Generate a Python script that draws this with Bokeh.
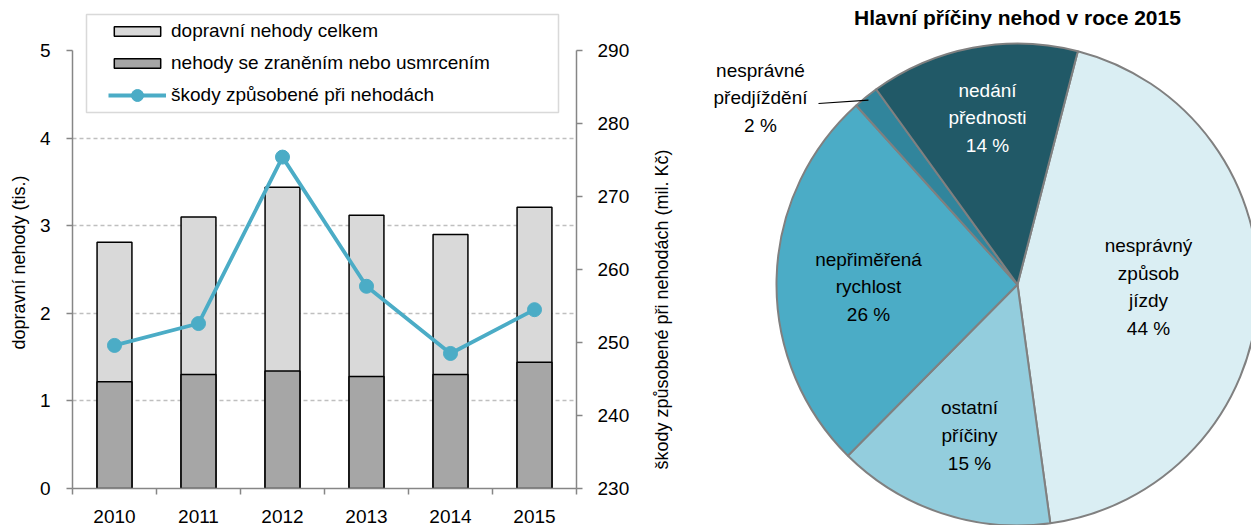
import numpy as np
from bokeh.plotting import figure
from bokeh.layouts import row
from bokeh.models import (ColumnDataSource, Range1d, LinearAxis, FixedTicker, Legend,
                          LegendItem, BoxAnnotation)
from bokeh.embed import file_html
from bokeh.resources import INLINE
from bokeh.core.properties import value

# ---------------- data ----------------
years = ["2010", "2011", "2012", "2013", "2014", "2015"]
accidents_total = [2.81, 3.10, 3.44, 3.12, 2.90, 3.21]      # tis.
accidents_injury = [1.22, 1.30, 1.34, 1.28, 1.30, 1.44]     # tis.
damage = [249.6, 252.6, 275.4, 257.7, 248.5, 254.5]         # mil. Kč
left_ticks = [0, 1, 2, 3, 4, 5]
right_ticks = [230, 240, 250, 260, 270, 280, 290]
left_title = "dopravní nehody (tis.)"
right_title = "škody způsobené při nehodách (mil. Kč)"

cause_names = ["nesprávný\nzpůsob\njízdy", "ostatní\npříčiny", "nepřiměřená\nrychlost",
               "nesprávné\npředjíždění", "nedání\npřednosti"]
cause_share = [43.8, 14.6, 25.9, 1.7, 14.0]
pie_title = "Hlavní příčiny nehod v roce 2015"

# ---------------- styles ----------------
FONT = "Liberation Sans"
AXIS = "#868686"
GRID = "#BFBFBF"
LINE_C = "#4BACC6"
slice_colors = ["#DAEEF3", "#93CDDD", "#4BACC6", "#31859C", "#215967"]
label_colors = ["black", "black", "black", "black", "white"]
H = 525


def strip_fig(width):
    f = figure(width=width, height=H, x_range=Range1d(0, width), y_range=Range1d(0, H),
               toolbar_location=None, output_backend="svg", min_border=0,
               x_axis_type=None, y_axis_type=None, outline_line_color=None)
    f.grid.visible = False
    return f


# ---------------- axis-title strips ----------------
lt = strip_fig(36)
lt.text(x=[18], y=[H - 262], text=[left_title], angle=np.pi / 2, text_align="center",
        text_baseline="middle", text_font=value(FONT), text_font_size="18px", text_color="black")
rt = strip_fig(30)
rt.text(x=[11], y=[H - 309], text=[right_title], angle=np.pi / 2, text_align="center",
        text_baseline="middle", text_font=value(FONT), text_font_size="18px", text_color="black")

# ---------------- left chart ----------------
xpos = [i + 0.5 for i in range(len(years))]
src = ColumnDataSource(dict(x=xpos, total=accidents_total, injury=accidents_injury, damage=damage))

p = figure(width=614, height=H, x_range=Range1d(0, 6), y_range=Range1d(0, 5.434),
           toolbar_location=None, output_backend="svg",
           min_border_left=35, min_border_right=74, min_border_top=12, min_border_bottom=37,
           outline_line_color=None)
p.extra_y_ranges = {"dmg": Range1d(230, 295.21)}

bt = p.vbar(x="x", top="total", width=0.415, source=src, fill_color="#D9D9D9",
            line_color="black", line_width=1.5)
bi = p.vbar(x="x", top="injury", width=0.415, source=src, fill_color="#A6A6A6",
            line_color="black", line_width=1.5)
ln = p.line(x="x", y="damage", y_range_name="dmg", source=src, line_color=LINE_C, line_width=3.8)
sc = p.scatter(x="x", y="damage", y_range_name="dmg", source=src, size=14,
               fill_color=LINE_C, line_color=LINE_C)

xa = p.xaxis[0]
xa.ticker = FixedTicker(ticks=xpos, minor_ticks=list(range(len(years) + 1)))
xa.major_label_overrides = {x: y for x, y in zip(xpos, years)}
xa.major_tick_line_color = None
xa.major_tick_out = 0
xa.major_tick_in = 0
xa.minor_tick_out = 6
xa.minor_tick_in = 0
xa.minor_tick_line_color = AXIS
xa.minor_tick_line_width = 1.5
xa.axis_line_color = AXIS
xa.axis_line_width = 1.5
xa.major_label_standoff = 15

ya = p.yaxis[0]
ya.ticker = FixedTicker(ticks=left_ticks, minor_ticks=[])
ya.bounds = (0, 5)
ya.major_label_standoff = 16

ra = LinearAxis(y_range_name="dmg", ticker=FixedTicker(ticks=right_ticks, minor_ticks=[]),
                bounds=(230, 290))
ra.major_label_standoff = 15
p.add_layout(ra, "right")

for ax in [ya, ra]:
    ax.major_tick_out = 6
    ax.major_tick_in = 0
    ax.minor_tick_line_color = None
    ax.major_tick_line_color = AXIS
    ax.major_tick_line_width = 1.5
    ax.axis_line_color = AXIS
    ax.axis_line_width = 1.5
for ax in [xa, ya, ra]:
    ax.major_label_text_font = FONT
    ax.major_label_text_font_size = "19px"
    ax.major_label_text_color = "black"

p.xgrid.visible = False
p.ygrid.ticker = FixedTicker(ticks=[1, 2, 3, 4], minor_ticks=[])
p.ygrid.grid_line_color = GRID
p.ygrid.grid_line_dash = "4 3"
p.ygrid.grid_line_width = 1.3

# legend frame + legends
p.add_layout(BoxAnnotation(left=14, right=486, bottom=376, top=474,
                           left_units="screen", right_units="screen",
                           bottom_units="screen", top_units="screen",
                           fill_color="white", fill_alpha=1.0,
                           line_color="#808080", line_width=1.5))
common = dict(padding=0, margin=0, border_line_color=None, background_fill_alpha=0,
              label_text_font=FONT, label_text_font_size="19px", label_text_color="black",
              glyph_width=58, label_standoff=5, label_height=22)
legA = Legend(items=[LegendItem(label="dopravní nehody celkem", renderers=[bt]),
                     LegendItem(label="nehody se zraněním nebo usmrcením", renderers=[bi])],
              location=(36, 414), glyph_height=12, spacing=10, **common)
legB = Legend(items=[LegendItem(label="škody způsobené při nehodách", renderers=[ln, sc])],
              location=(36, 378), glyph_height=30, **common)
p.add_layout(legA, "center")
p.add_layout(legB, "center")

# ---------------- pie chart ----------------
q = figure(width=571, height=H, x_range=Range1d(-337, 234), y_range=Range1d(-241, 284),
           toolbar_location=None, output_backend="svg", min_border=0,
           x_axis_type=None, y_axis_type=None, outline_line_color=None)
q.grid.visible = False

shares = np.array(cause_share, dtype=float)
cum = np.concatenate([[0.0], np.cumsum(shares / shares.sum())])
START = 14.5  # degrees clockwise from 12 o'clock
th0 = START + 360 * cum[:-1]
th1 = START + 360 * cum[1:]
psrc = ColumnDataSource(dict(start=np.deg2rad(90 - th0), end=np.deg2rad(90 - th1),
                             color=slice_colors))
R = 241
q.wedge(x=0, y=0, radius=R, start_angle="start", end_angle="end", direction="clock",
        fill_color="color", line_color="#808080", line_width=2, source=psrc)

label_x = [131, -48, -149, -257, -30]
label_y = [-2.5, -151, -2.5, 186.5, 166.5]
texts = [f"{n}\n{round(s)} %" for n, s in zip(cause_names, cause_share)]
q.text(x=label_x, y=label_y, text=texts, text_color=label_colors, text_align="center",
       text_baseline="middle", text_font=value(FONT), text_font_size="19px",
       text_line_height=1.33)

# leader line for the small slice
mid = np.deg2rad((th0[3] + th1[3]) / 2)
q.line(x=[-199, (R - 4) * np.sin(mid)], y=[181, (R - 4) * np.cos(mid)],
       line_color="black", line_width=1.2)

q.text(x=[0], y=[267], text=[pie_title], text_align="center",
       text_baseline="middle", text_font=value(FONT), text_font_size="21px",
       text_font_style="bold", text_color="black")

for fig in (lt, p, rt, q):
    if "frame_align" in fig.properties():
        fig.frame_align = False

layout = row(lt, p, rt, q)
open("out.html", "w").write(file_html(layout, INLINE, title="Nehody"))
